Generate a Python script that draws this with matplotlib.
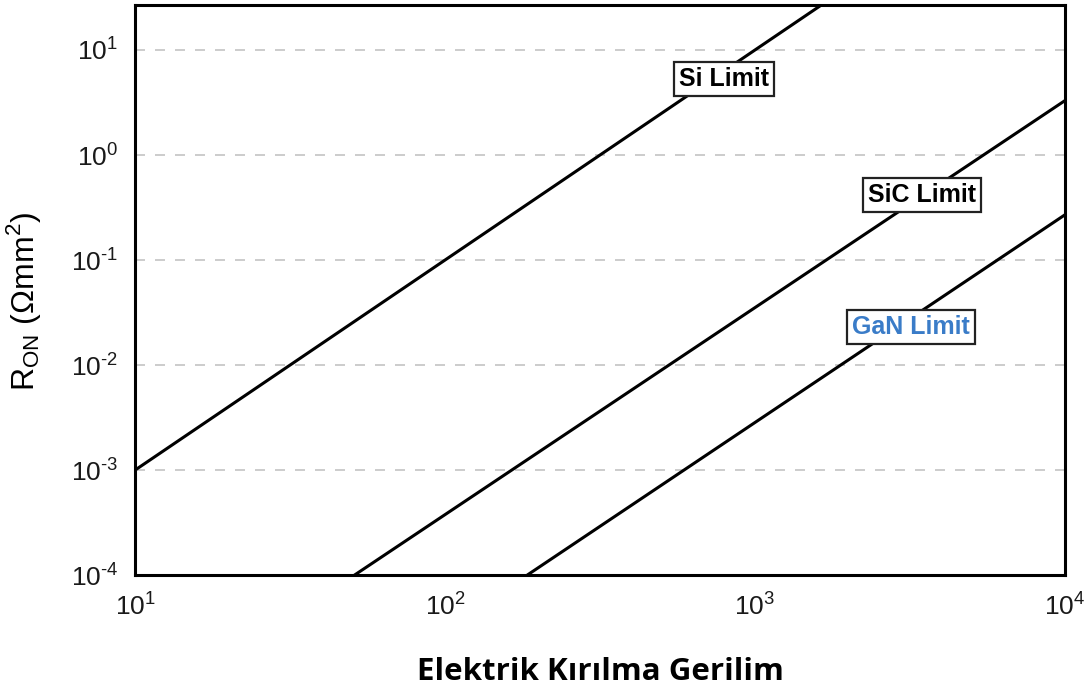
import numpy as np
import matplotlib
matplotlib.use('Agg')
import matplotlib.pyplot as plt
from matplotlib.ticker import LogLocator, NullLocator, FuncFormatter

plt.rcParams['font.family'] = ['Liberation Sans', 'DejaVu Sans']
plt.rcParams['mathtext.fontset'] = 'custom'
plt.rcParams['mathtext.rm'] = 'Liberation Sans'

# breakdown voltage (V) and on-resistance (Ohm mm^2) end points of each limit line
si_v = [10, 10000]
si_r = [1e-3, 1e3]
sic_v = [51, 10000]
sic_r = [1e-4, 3.3]
gan_v = [184, 10000]
gan_r = [1e-4, 0.27]

# label text and where it sits (data coords)
labels = ['Si Limit', 'SiC Limit', 'GaN Limit']
label_v = [795, 3460, 3185]
label_r = [5.3, 0.416, 0.023]
label_colors = ['black', 'black', '#3a7cc8']


def pow10(val, pos):
    e = int(round(np.log10(val)))
    s = str(e).replace('-', '\u2010')
    return r'$\mathregular{10^{%s}}$' % s


fig = plt.figure(figsize=(10.89, 6.88), dpi=100)
ax = fig.add_axes([0.124, 0.164, 0.854, 0.829])

for v, r in [(si_v, si_r), (sic_v, sic_r), (gan_v, gan_r)]:
    ax.plot(v, r, color='black', linewidth=2.2, solid_capstyle='butt')

for text, x, y, c in zip(labels, label_v, label_r, label_colors):
    ax.text(x, y, text, color=c, fontsize=18, fontweight='bold',
            ha='center', va='center', zorder=5,
            bbox=dict(boxstyle='square,pad=0.2', facecolor='white',
                      edgecolor='#222222', linewidth=1.6))

ax.set_xscale('log')
ax.set_yscale('log')
ax.set_xlim(10, 10000)
ax.set_ylim(1e-4, 26.9)
ax.xaxis.set_major_locator(LogLocator(base=10, numticks=10))
ax.yaxis.set_major_locator(LogLocator(base=10, numticks=10))
ax.xaxis.set_minor_locator(NullLocator())
ax.yaxis.set_minor_locator(NullLocator())
ax.xaxis.set_major_formatter(FuncFormatter(pow10))
ax.yaxis.set_major_formatter(FuncFormatter(pow10))

ax.yaxis.grid(True, linestyle=(0, (6, 6)), color='#c4c4c4', linewidth=1.2)
ax.set_axisbelow(True)
ax.tick_params(length=0, labelsize=19, colors='#1a1a1a')
ax.tick_params(axis='y', pad=12)
ax.tick_params(axis='x', pad=13)
for s in ax.spines.values():
    s.set_linewidth(2.2)
    s.set_color('black')

ax.set_xlabel('Elektrik Kırılma Gerilim', fontsize=22.5, fontweight='bold',
              family=['Open Sans', 'DejaVu Sans'], labelpad=26)
ax.set_ylabel(r'R$_{\mathregular{ON}}$ (Ωmm$^{\mathregular{2}}$)', fontsize=23)
ax.yaxis.set_label_coords(-0.099, 0.48)

fig.savefig('out.png', dpi=100)
